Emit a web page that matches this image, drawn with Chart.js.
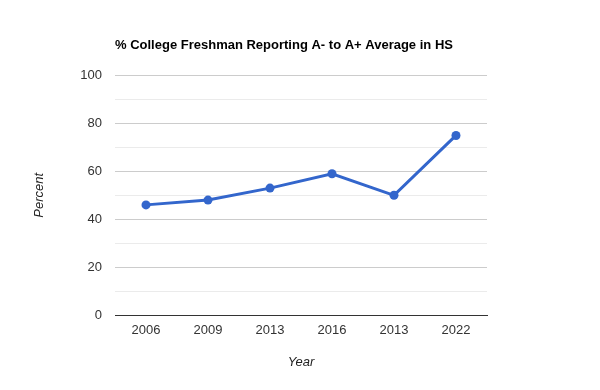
<!DOCTYPE html>
<html>
<head>
<meta charset="utf-8">
<script src="https://cdn.jsdelivr.net/npm/chart.js@4/dist/chart.umd.min.js"></script>
<style>
  html, body { margin: 0; padding: 0; background: #fff; }
  #wrap { width: 600px; height: 390px; }
</style>
</head>
<body>
<div id="wrap"><canvas id="freshmanChart" width="600" height="390"></canvas></div>
<script>
// values
var years = ["2006", "2009", "2013", "2016", "2013", "2022"];
var percents = [46, 48, 53, 59, 50, 75];
var yTicks = [0, 20, 40, 60, 80, 100];

var data = {
	labels: years,
	datasets: [
		{
			label: "% reporting A- to A+",
			data: percents,
			borderColor: "#3366cc",
			backgroundColor: "#3366cc",
			borderWidth: 3,
			pointRadius: 4.5,
			pointHoverRadius: 5,
			pointBackgroundColor: "#3366cc",
			pointBorderWidth: 0,
			lineTension: 0
		}
	]
};

var options = {
	responsive: false,
	animation: false,
	layout: { padding: { left: 0, right: 113, top: 0, bottom: 0 } },
	plugins: {
		legend: { display: false },
		tooltip: { enabled: false },
		title: {
			display: true,
			text: "% College Freshman Reporting A- to A+ Average in HS",
			align: "start",
			fullSize: false,
			color: "#000",
			font: { family: "Liberation Sans, Arial", size: 13, weight: "bold" },
			padding: { top: 38, bottom: 22 }
		}
	},
	scales: {
		x: {
			offset: true,
			grid: { display: false, drawTicks: false },
			border: { display: true, color: "#333", width: 1 },
			ticks: {
				color: "#333",
				padding: 8,
				maxRotation: 0,
				font: { family: "Liberation Sans, Arial", size: 13 }
			},
			title: {
				display: true,
				text: "Year",
				color: "#222",
				font: { family: "Liberation Sans, Arial", size: 13, style: "italic" },
				padding: { top: 20, bottom: 20 }
			},
			afterFit: function (scale) { scale.height = 75; }
		},
		y: {
			min: 0,
			max: 100,
			border: { display: false },
			grid: {
				drawTicks: false,
				color: function (ctx) {
					var v = ctx.tick ? ctx.tick.value : 0;
					if (v === 0) return "#333";
					return yTicks.indexOf(v) >= 0 ? "#cccccc" : "#ebebeb";
				}
			},
			ticks: {
				stepSize: 10,
				color: "#333",
				padding: 13,
				font: { family: "Liberation Sans, Arial", size: 13 },
				callback: function (value) {
					return yTicks.indexOf(value) >= 0 ? value : "";
				}
			},
			title: {
				display: true,
				text: "Percent",
				color: "#222",
				font: { family: "Liberation Sans, Arial", size: 13, style: "italic" },
				padding: { top: 32, bottom: 0 }
			},
			afterFit: function (scale) { scale.width = 115; }
		}
	}
};

var freshmanChart = new Chart(document.getElementById("freshmanChart"), {
	type: "line",
	data: data,
	options: options
});
</script>
</body>
</html>
